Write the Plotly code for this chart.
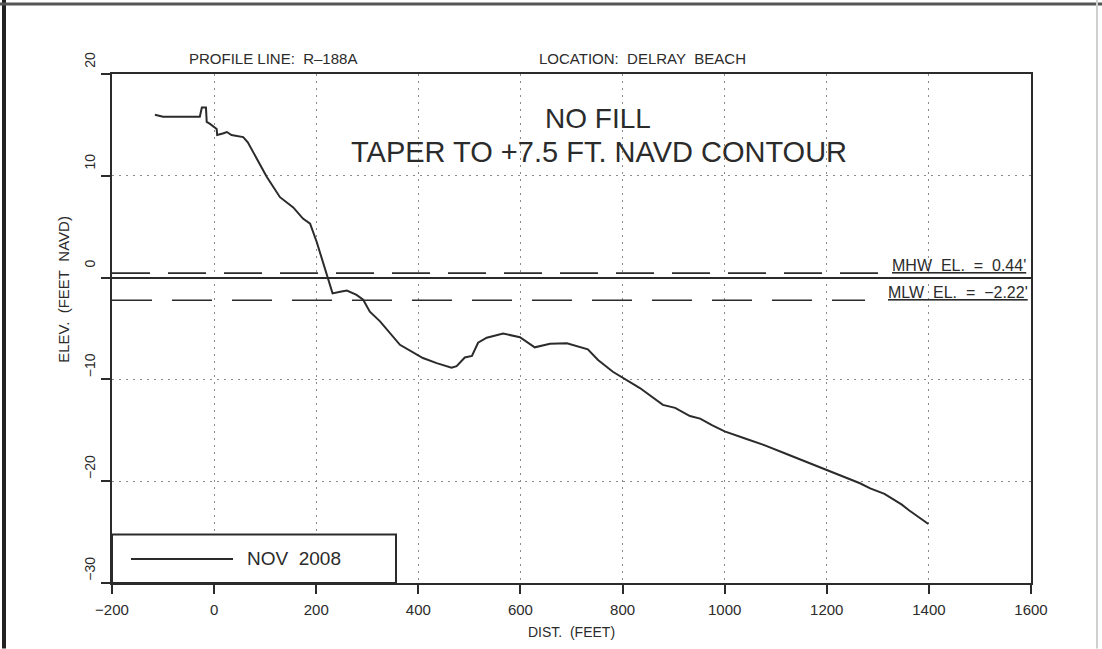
import plotly.graph_objects as go

# Beach profile R-188A, Delray Beach, surveyed Nov 2008
dist_ft = [-116, -105, -100, -60, -28, -24, -16, -14.5, -8, 5, 6, 17, 25, 34, 57, 66,
           83, 103, 129, 155, 174, 188, 201, 220, 227, 232, 247, 260, 279, 292, 305,
           325, 364, 409, 436, 465, 475, 491, 505, 517, 534, 566, 599, 628, 658, 691,
           732, 752, 781, 801, 834, 879, 903, 932, 952, 975, 1000, 1040, 1080, 1120,
           1160, 1193, 1210, 1265, 1285, 1313, 1347, 1361, 1399]
elev_ft = [16.0, 15.9, 15.8, 15.8, 15.8, 16.7, 16.7, 15.3, 15.1, 14.6, 14.0, 14.15,
           14.3, 14.0, 13.8, 13.3, 11.7, 9.9, 7.9, 6.9, 5.8, 5.3, 3.5, 0.4, -0.7,
           -1.55, -1.38, -1.28, -1.7, -2.17, -3.35, -4.3, -6.6, -7.9, -8.4, -8.85,
           -8.7, -7.85, -7.7, -6.4, -5.9, -5.5, -5.85, -6.85, -6.5, -6.45, -7.05,
           -8.1, -9.25, -9.85, -10.85, -12.5, -12.8, -13.6, -13.85, -14.5, -15.1,
           -15.8, -16.5, -17.3, -18.1, -18.8, -19.1, -20.2, -20.7, -21.25, -22.3,
           -22.85, -24.2]

MHW = 0.44
MLW = -2.22
MHW_label_start = 1305
MLW_label_start = 1275

x_range = [-200, 1600]
y_range = [-30, 20]
x_ticks = [-200, 0, 200, 400, 600, 800, 1000, 1200, 1400, 1600]
y_ticks = [-30, -20, -10, 0, 10, 20]

INK = "#2b2b2b"
FONT = "Liberation Sans, Arial, sans-serif"

W, H = 1102, 649
L, R, T, B = 112, 71, 74, 65.5
PW, PH = W - L - R, H - T - B


def px(xp):
    return (xp - L) / PW


def py(yp):
    return (H - B - yp) / PH


fig = go.Figure()

fig.add_trace(go.Scatter(
    x=dist_ft, y=elev_ft, mode="lines", name="NOV 2008",
    line=dict(color=INK, width=2), showlegend=False))

fig.add_trace(go.Scatter(
    x=[x_range[0], MHW_label_start], y=[MHW, MHW], mode="lines",
    line=dict(color=INK, width=1.6, dash="38px,18px"), showlegend=False,
    hoverinfo="skip"))
fig.add_trace(go.Scatter(
    x=[x_range[0], MLW_label_start], y=[MLW, MLW], mode="lines",
    line=dict(color=INK, width=1.6, dash="40px,20px"), showlegend=False,
    hoverinfo="skip"))

annos = [
    dict(text="PROFILE LINE:\u00a0 R\u2013188A", x=px(273), y=py(58),
         font=dict(size=15)),
    dict(text="LOCATION:\u00a0 DELRAY\u00a0 BEACH", x=px(642), y=py(58),
         font=dict(size=15)),
    dict(text="NO FILL", x=px(598), y=py(119), font=dict(size=28)),
    dict(text="TAPER TO +7.5 FT. NAVD CONTOUR", x=px(599), y=py(152),
         font=dict(size=29)),
    dict(text="ELEV.\u00a0 (FEET\u00a0 NAVD)", x=px(64), y=py(290),
         textangle=-90, font=dict(size=15)),
    dict(text="NOV\u00a0 2008", x=px(245), y=py(559), xanchor="left",
         font=dict(size=19)),
]
for a in annos:
    a.setdefault("xanchor", "center")
    a.update(xref="paper", yref="paper", yanchor="middle", showarrow=False)
    a["font"].update(family=FONT, color=INK)
    fig.add_annotation(**a)

fig.add_annotation(
    text="<u>MHW\u00a0 EL.\u00a0 =\u00a0 0.44'</u>", x=x_range[1], y=MHW,
    xref="x", yref="y", xanchor="right", yanchor="bottom", xshift=-3, yshift=-3,
    showarrow=False, font=dict(family=FONT, size=16, color=INK))
fig.add_annotation(
    text="<u>MLW\u00a0 EL.\u00a0 =\u00a0 \u22122.22'</u>", x=x_range[1], y=MLW,
    xref="x", yref="y", xanchor="right", yanchor="bottom", xshift=-1, yshift=-3,
    showarrow=False, font=dict(family=FONT, size=16, color=INK))

# legend box and sample line
fig.add_shape(type="rect", xref="paper", yref="paper",
              x0=px(112), x1=px(396), y0=py(583.5), y1=py(535),
              line=dict(color=INK, width=2), fillcolor="white", layer="above")
fig.add_shape(type="line", xref="paper", yref="paper",
              x0=px(131), x1=px(233), y0=py(559.5), y1=py(559.5),
              line=dict(color=INK, width=2), layer="above")

# sheet frame
fig.add_shape(type="line", xref="paper", yref="paper",
              x0=px(4), x1=px(4), y0=py(0), y1=py(649),
              line=dict(color="#222", width=4))
fig.add_shape(type="line", xref="paper", yref="paper",
              x0=px(0), x1=px(1102), y0=py(4), y1=py(4),
              line=dict(color="#555", width=3))
fig.add_shape(type="line", xref="paper", yref="paper",
              x0=px(1097), x1=px(1097), y0=py(0), y1=py(649),
              line=dict(color="#cfcfcf", width=2))

axis_common = dict(
    showline=True, linecolor=INK, linewidth=2, mirror=True,
    ticks="outside", ticklen=9, tickwidth=2, tickcolor=INK,
    showgrid=True, gridcolor="#8a8a8a", gridwidth=1, griddash="2px,5px",
    tickfont=dict(family=FONT, size=15, color=INK),
)

fig.update_xaxes(
    range=x_range, tickvals=x_ticks, zeroline=False,
    title=dict(text="DIST.\u00a0 (FEET)", standoff=10,
               font=dict(family=FONT, size=14, color=INK)),
    ticklabelstandoff=3, **axis_common)
fig.update_yaxes(
    range=y_range, tickvals=y_ticks, tickangle=-90,
    zeroline=True, zerolinecolor=INK, zerolinewidth=2,
    ticklabelshift=-12, **{**axis_common, "tickfont": dict(family=FONT, size=14, color=INK)})

fig.update_layout(
    width=W, height=H, margin=dict(l=L, r=R, t=T, b=B),
    paper_bgcolor="white", plot_bgcolor="white", showlegend=False,
    font=dict(family=FONT, color=INK))

fig.write_html("out.html")
